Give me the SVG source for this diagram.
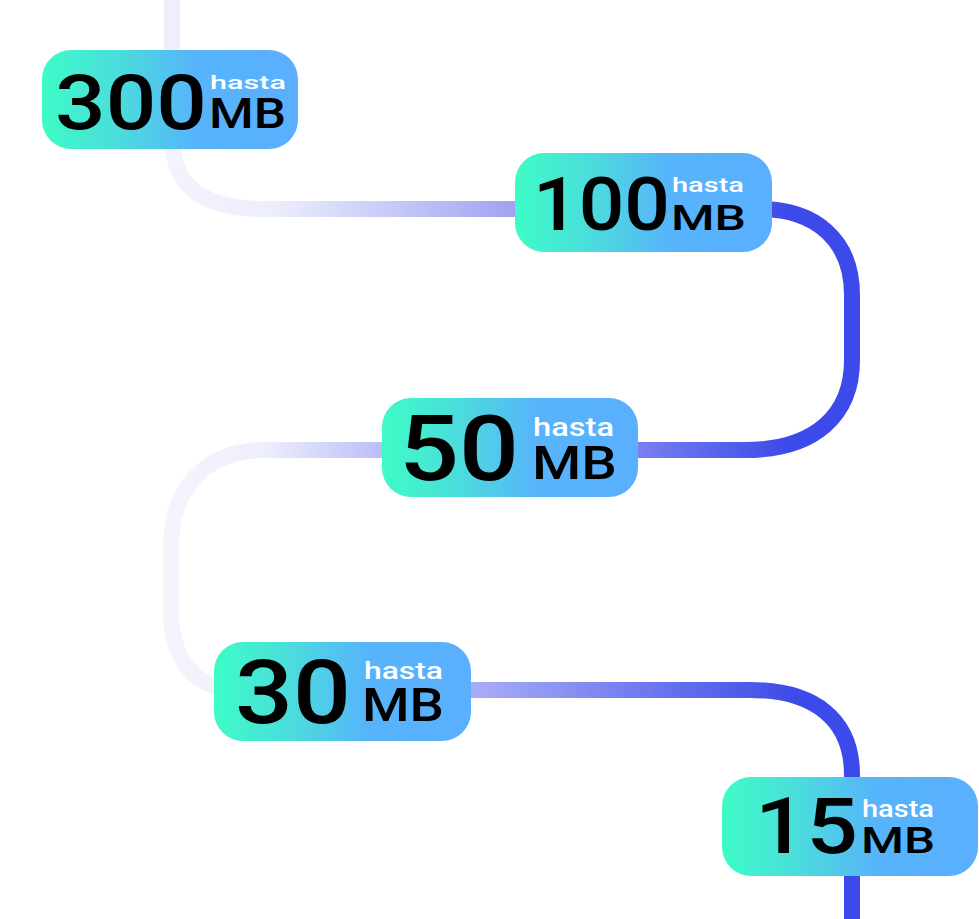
<svg xmlns="http://www.w3.org/2000/svg" width="979" height="919" viewBox="0 0 979 919">
<style>
.line{fill:none;stroke-width:16;stroke-linecap:butt}
.box{fill:url(#boxg)}
.num{font-family:Roboto,"Liberation Sans",Arial,sans-serif;font-weight:500;fill:#000}
.hasta{font-family:Roboto,"Liberation Sans",Arial,sans-serif;font-weight:500;fill:#fff}
.mb{font-family:Roboto,"Liberation Sans",Arial,sans-serif;font-weight:500;fill:#000}
</style>
<defs>
<linearGradient id="boxg" x1="0" y1="0" x2="1" y2="0">
<stop offset="0" stop-color="#3dfcc6"/>
<stop offset="0.3" stop-color="#4bdcdc"/>
<stop offset="0.6" stop-color="#57b4fb"/>
<stop offset="1" stop-color="#5aafff"/>
</linearGradient>
<linearGradient id="gA" gradientUnits="userSpaceOnUse" x1="172" y1="0" x2="520" y2="0">
<stop offset="0" stop-color="#f3f3fd"/>
<stop offset="0.3" stop-color="#eceefc"/>
<stop offset="1" stop-color="#9ca1f1"/>
</linearGradient>
<linearGradient id="gB" gradientUnits="userSpaceOnUse" x1="620" y1="0" x2="790" y2="0">
<stop offset="0" stop-color="#8086f1"/>
<stop offset="1" stop-color="#3b4ae8"/>
</linearGradient>
<linearGradient id="gC" gradientUnits="userSpaceOnUse" x1="171" y1="0" x2="400" y2="0">
<stop offset="0" stop-color="#f4f4fd"/>
<stop offset="0.4" stop-color="#eeeffc"/>
<stop offset="1" stop-color="#b3b6f5"/>
</linearGradient>
<linearGradient id="gD" gradientUnits="userSpaceOnUse" x1="471" y1="0" x2="800" y2="0">
<stop offset="0" stop-color="#a9adf6"/>
<stop offset="1" stop-color="#3b4ae8"/>
</linearGradient>
</defs>
<rect width="979" height="919" fill="#fff"/>
<g id="connectors">
<path class="line" stroke="#efeffb" d="M172,0 V100"/>
<path class="line" stroke="url(#gA)" d="M172,90 V135 C172,185 200,209 265,209 H530"/>
<path class="line" stroke="url(#gB)" d="M760,209 C815,209 852,240 852,295 V360 C852,415 815,450 745,450 H620"/>
<path class="line" stroke="url(#gC)" d="M400,450 H265 C205,450 171,490 171,545 V610 C171,660 195,690 240,690"/>
<path class="line" stroke="url(#gD)" d="M450,690 H750 C815,690 852,720 852,775 V919"/>
</g>
<g id="n300">
<rect class="box" x="42" y="50" width="256" height="99" rx="29"/>
<text class="num" x="55" y="129" font-size="76" textLength="152" lengthAdjust="spacingAndGlyphs">300</text>
<text class="hasta" x="210" y="89" font-size="19" textLength="76" lengthAdjust="spacingAndGlyphs">hasta</text>
<text class="mb" x="209" y="128" font-size="42" textLength="77" lengthAdjust="spacingAndGlyphs">MB</text>
</g>
<g id="n100">
<rect class="box" x="515" y="153" width="257" height="99" rx="29"/>
<text class="num" x="533" y="230" font-size="75" textLength="137" lengthAdjust="spacingAndGlyphs">100</text>
<text class="hasta" x="672" y="192" font-size="20" textLength="72" lengthAdjust="spacingAndGlyphs">hasta</text>
<text class="mb" x="671" y="230" font-size="35" textLength="75" lengthAdjust="spacingAndGlyphs">MB</text>
</g>
<g id="n50">
<rect class="box" x="382" y="398" width="256" height="99" rx="29"/>
<text class="num" x="399" y="480" font-size="91" textLength="120" lengthAdjust="spacingAndGlyphs">50</text>
<text class="hasta" x="533" y="436" font-size="26" textLength="81" lengthAdjust="spacingAndGlyphs">hasta</text>
<text class="mb" x="532" y="479" font-size="46" textLength="85" lengthAdjust="spacingAndGlyphs">MB</text>
</g>
<g id="n30">
<rect class="box" x="214" y="642" width="257" height="99" rx="29"/>
<text class="num" x="235" y="723" font-size="89" textLength="116" lengthAdjust="spacingAndGlyphs">30</text>
<text class="hasta" x="364" y="679" font-size="23" textLength="79" lengthAdjust="spacingAndGlyphs">hasta</text>
<text class="mb" x="362" y="721" font-size="46" textLength="82" lengthAdjust="spacingAndGlyphs">MB</text>
</g>
<g id="n15">
<rect class="box" x="722" y="777" width="256" height="99" rx="29"/>
<text class="num" x="755" y="853" font-size="78" textLength="103" lengthAdjust="spacingAndGlyphs">15</text>
<text class="hasta" x="862" y="817" font-size="23" textLength="72" lengthAdjust="spacingAndGlyphs">hasta</text>
<text class="mb" x="861" y="853" font-size="36" textLength="74" lengthAdjust="spacingAndGlyphs">MB</text>
</g>
</svg>
